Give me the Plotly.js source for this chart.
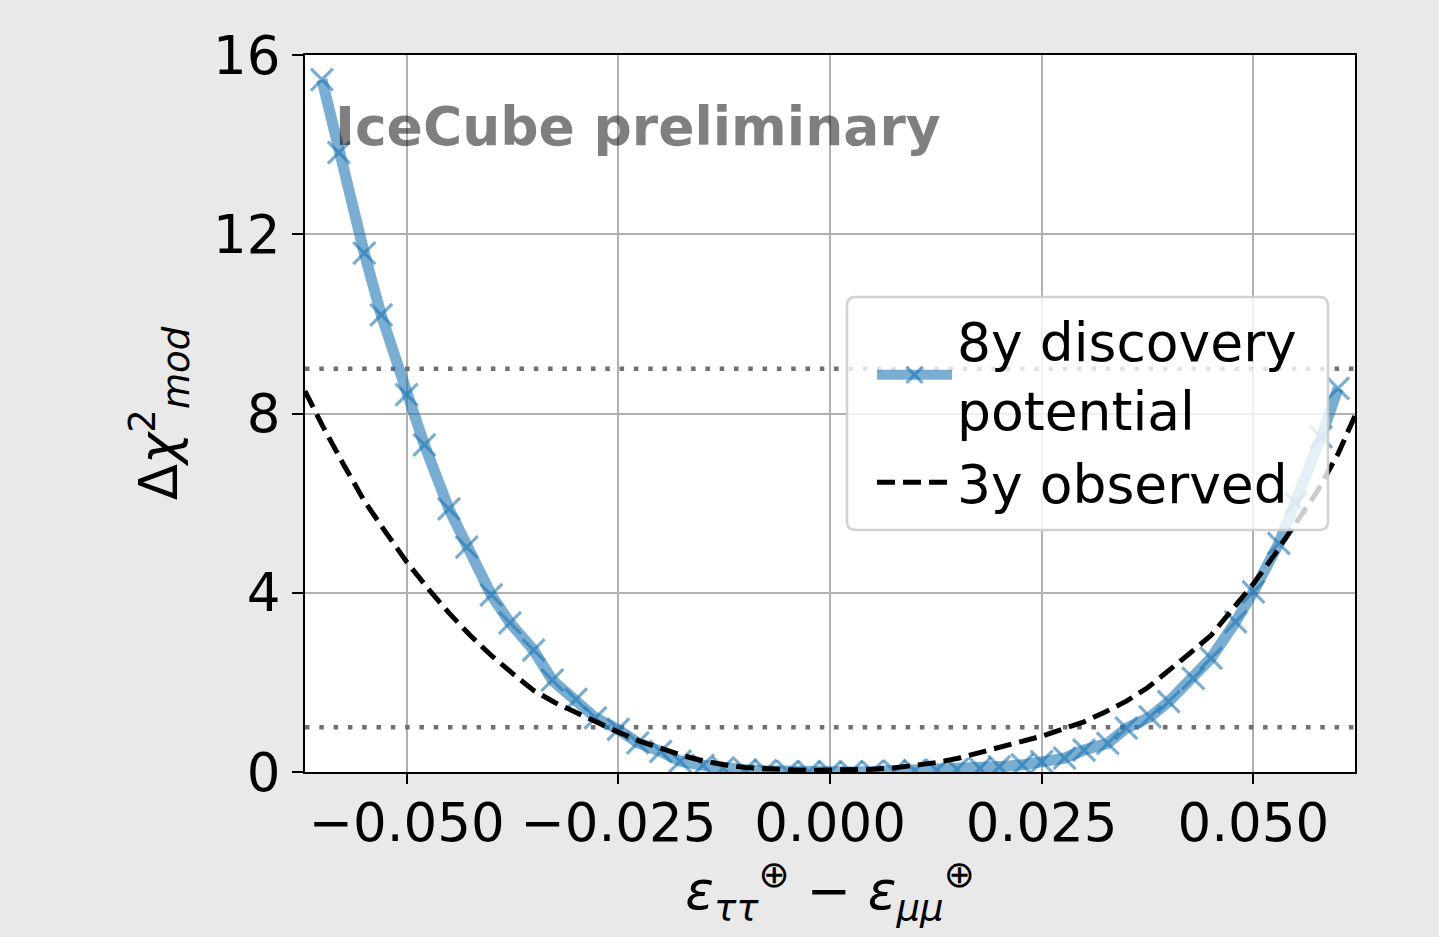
<!DOCTYPE html>
<html>
<head>
<meta charset="utf-8">
<script src="https://cdn.plot.ly/plotly-3.0.1.min.js"></script>
<style>
  html, body { margin: 0; padding: 0; background: #e9e9e9; }
  #chart { width: 1439px; height: 937px; }
</style>
</head>
<body>
<div id="chart"></div>
<script>
// ---- data ----
const discoveryX = [-0.0600, -0.0580, -0.0550, -0.0530, -0.0500, -0.0479, -0.0450, -0.0429, -0.0400, -0.0378,
  -0.0350, -0.0328, -0.0300, -0.0277, -0.0250, -0.0227, -0.0200, -0.0177, -0.0150, -0.0126,
  -0.0100, -0.0076, -0.0050, -0.0025, 0.0000, 0.0025, 0.0050, 0.0076, 0.0100, 0.0126,
  0.0150, 0.0177, 0.0200, 0.0227, 0.0250, 0.0277, 0.0300, 0.0328, 0.0350, 0.0378,
  0.0400, 0.0429, 0.0450, 0.0479, 0.0500, 0.0530, 0.0550, 0.0580, 0.0600];
const discoveryY = [15.45, 13.82, 11.58, 10.20, 8.42, 7.30, 5.87, 5.02, 3.95, 3.33,
  2.72, 2.05, 1.62, 1.21, 0.95, 0.65, 0.46, 0.24, 0.15, 0.09,
  0.05, 0.03, 0.01, 0.00, 0.00, 0.00, 0.01, 0.02, 0.03, 0.04,
  0.06, 0.08, 0.12, 0.16, 0.23, 0.31, 0.49, 0.64, 0.98, 1.23,
  1.57, 2.09, 2.54, 3.35, 4.02, 5.10, 6.00, 7.48, 8.56];

const observedX = [-0.0620, -0.0600, -0.0575, -0.0550, -0.0525, -0.0500, -0.0475, -0.0450, -0.0425, -0.0400,
  -0.0375, -0.0350, -0.0325, -0.0300, -0.0275, -0.0250, -0.0225, -0.0200, -0.0175, -0.0150,
  -0.0125, -0.0100, -0.0075, -0.0050, -0.0025, 0.0000, 0.0025, 0.0050, 0.0075, 0.0100,
  0.0125, 0.0150, 0.0175, 0.0200, 0.0225, 0.0250, 0.0275, 0.0300, 0.0325, 0.0350,
  0.0375, 0.0400, 0.0425, 0.0450, 0.0475, 0.0500, 0.0525, 0.0550, 0.0575, 0.0600, 0.0620];
const observedY = [8.50, 7.75, 6.88, 6.05, 5.36, 4.69, 4.10, 3.55, 3.05, 2.60,
  2.20, 1.82, 1.55, 1.32, 1.10, 0.89, 0.69, 0.52, 0.37, 0.25,
  0.16, 0.10, 0.07, 0.05, 0.04, 0.04, 0.05, 0.06, 0.09, 0.14,
  0.21, 0.30, 0.43, 0.56, 0.68, 0.80, 0.96, 1.12, 1.34, 1.58,
  1.88, 2.25, 2.65, 3.05, 3.62, 4.20, 4.85, 5.55, 6.25, 7.10, 7.95];

const referenceLevels = [1, 9];
const xRange = [-0.062, 0.062];
const yRange = [0, 16];
const xTicks = [-0.05, -0.025, 0, 0.025, 0.05];
const yTicks = [0, 4, 8, 12, 16];
const seriesNames = ['8y discovery<br>potential', '3y observed'];

// ---- traces ----
const font = 'DejaVu Sans, Liberation Sans, sans-serif';
const blue = 'rgba(31,119,180,0.6)';
const traces = [];
referenceLevels.forEach(lvl => {
  traces.push({
    x: xRange, y: [lvl, lvl], mode: 'lines', showlegend: false, hoverinfo: 'skip',
    line: { color: '#707070', width: 4.5, dash: '4.5px,9.8px' }
  });
});
traces.push({
  x: discoveryX, y: discoveryY, mode: 'lines+markers', name: seriesNames[0],
  line: { color: blue, width: 11 },
  marker: { symbol: 'x-thin', size: 22, color: blue, line: { color: blue, width: 3.2 } }
});
traces.push({
  x: observedX, y: observedY, mode: 'lines', name: seriesNames[1],
  line: { color: '#000000', width: 5, dash: '18px,8px' }
});

// legend frame (rounded, semi-transparent) in paper coordinates
const lx0 = 0.5162, lx1 = 0.9743, ly0 = 0.3375, ly1 = 0.6625, rx = 0.008, ry = 0.0117;
const framePath = `M${lx0 + rx},${ly1} L${lx1 - rx},${ly1} Q${lx1},${ly1} ${lx1},${ly1 - ry} ` +
  `L${lx1},${ly0 + ry} Q${lx1},${ly0} ${lx1 - rx},${ly0} L${lx0 + rx},${ly0} ` +
  `Q${lx0},${ly0} ${lx0},${ly0 + ry} L${lx0},${ly1 - ry} Q${lx0},${ly1} ${lx0 + rx},${ly1} Z`;

const layout = {
  width: 1439, height: 937,
  paper_bgcolor: '#e9e9e9', plot_bgcolor: '#ffffff',
  margin: { l: 305, r: 84, t: 55, b: 165, pad: 0 },
  font: { family: font, size: 52, color: '#000' },
  showlegend: true,
  legend: {
    x: 0.5400, y: 0.6600, xanchor: 'left', yanchor: 'top',
    bgcolor: 'rgba(0,0,0,0)', borderwidth: 0,
    font: { family: font, size: 53.5, color: '#000' },
    itemwidth: 75, tracegroupgap: 8
  },
  shapes: [{
    type: 'path', xref: 'paper', yref: 'paper', path: framePath, layer: 'above',
    fillcolor: 'rgba(255,255,255,0.8)', line: { color: 'rgba(204,204,204,0.9)', width: 2.5 }
  }],
  xaxis: {
    range: xRange, tickvals: xTicks, tickformat: '.3f',
    showgrid: true, gridcolor: '#b0b0b0', gridwidth: 2, zeroline: false,
    showline: true, linecolor: '#000', linewidth: 2, mirror: true,
    ticks: 'outside', ticklen: 10, tickwidth: 2, tickcolor: '#000',
    tickfont: { family: font, size: 53, color: '#000' },
    ticklabelstandoff: -7,
    title: { text: '<i>ε</i><sub><i>ττ</i></sub><sup>⊕</sup> − <i>ε</i><sub><i>μμ</i></sub><sup>⊕</sup>',
             font: { family: font, size: 53, color: '#000' }, standoff: 16 }
  },
  yaxis: {
    range: yRange, tickvals: yTicks,
    showgrid: true, gridcolor: '#b0b0b0', gridwidth: 2, zeroline: false,
    showline: true, linecolor: '#000', linewidth: 2, mirror: true,
    ticks: 'outside', ticklen: 11, tickwidth: 2, tickcolor: '#000',
    tickfont: { family: font, size: 53, color: '#000' },
    ticklabelstandoff: 1,
    title: { text: 'Δ<i>χ</i><sup>2</sup><sub><i>mod</i></sub>',
             font: { family: font, size: 53, color: '#000' }, standoff: 18 }
  },
  annotations: [{
    text: '<b>IceCube preliminary</b>', xref: 'paper', yref: 'paper',
    x: 0.0267, y: 0.90, xanchor: 'left', yanchor: 'middle', showarrow: false,
    font: { family: font, size: 53.5, color: 'rgba(0,0,0,0.5)' }
  }]
};

Plotly.newPlot('chart', traces, layout, { displayModeBar: false, staticPlot: true });
</script>
</body>
</html>
